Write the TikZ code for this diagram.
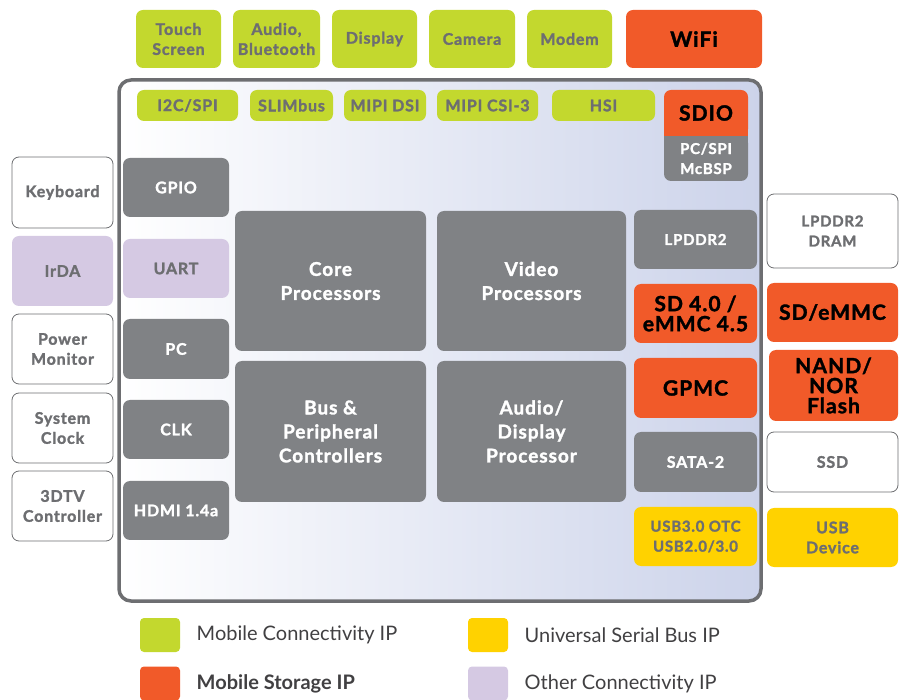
\documentclass[tikz,border=0pt]{standalone}
\usepackage{fontspec}
\setmainfont{Lato}
\newfontfamily\blkfont{Lato}[LetterSpace=5,BoldFeatures={FakeBold=1.6}]
\usetikzlibrary{positioning}
\definecolor{mobgreen}{HTML}{C3D82E}
\definecolor{storange}{HTML}{F15A29}
\definecolor{ipgray}{HTML}{808285}
\definecolor{usbyellow}{HTML}{FFD200}
\definecolor{otherlav}{HTML}{D5C9E3}
\definecolor{txtgray}{HTML}{6D6E71}
\definecolor{legendgray}{HTML}{414042}
\definecolor{boardblue}{HTML}{CCD3EA}
\definecolor{rimgray}{HTML}{6D6E71}

\begin{document}
\begin{tikzpicture}[x=1pt,y=-1pt,
box/.style={rounded corners=7pt,align=center,inner sep=0pt,
  font=\blkfont\bfseries\fontsize{16}{20}\selectfont},
sz/.style 2 args={minimum width=#1pt,minimum height=#2pt},
mc/.style={box,fill=mobgreen,text=txtgray},
ms/.style={box,fill=storange,text=black,
  font=\blkfont\bfseries\fontsize{21}{20}\selectfont},
core/.style={box,fill=ipgray,text=white},
usb/.style={box,fill=usbyellow,text=txtgray},
oc/.style={box,fill=otherlav,text=txtgray},
ext/.style={box,fill=white,draw=txtgray,thick,text=txtgray},
small/.style={font=\blkfont\bfseries\fontsize{15}{20}\selectfont},
big/.style={font=\blkfont\bfseries\fontsize{19}{24}\selectfont},
key/.style={rounded corners=4pt,sz={40}{34}},
legend/.style={anchor=west,text=legendgray,font=\fontsize{20}{24}\selectfont}]

\useasboundingbox (0,0) rectangle (903,700);

% board
\draw[draw=rimgray,line width=3.5pt,rounded corners=12pt,left color=white,right color=boardblue] (119,80) rectangle (761,601);

% top row
\node[mc,sz={85}{58}] (touch) at (178.5,39) {Touch\\Screen};
\node[mc,sz={87}{58}] (audio) at (276.5,39) {Audio,\\Bluetooth};
\node[mc,sz={85}{58}] (disp) at (374.5,39) {Display};
\node[mc,sz={86}{58}] (cam) at (472,39) {Camera};
\node[mc,sz={85}{58}] (modem) at (569.5,39) {Modem};
\node[ms,sz={136}{58}] (wifi) at (694,39) {WiFi};

% interfaces
\node[mc,sz={101}{31}] (i2c) at (187.5,105.5) {I2C/SPI};
\node[mc,sz={83}{31}] (slim) at (291.5,105.5) {SLIMbus};
\node[mc,sz={82}{31}] (dsi) at (385,105.5) {MIPI DSI};
\node[mc,sz={101}{31}] (csi) at (487.5,105.5) {MIPI CSI-3};
\node[mc,sz={103}{31}] (hsi) at (603.5,105.5) {HSI};

\fill[ipgray] (664,128) rectangle (748,146);
\node[core,small,sz={84}{45}] (pcspi) at (706,158.5) {PC/SPI\\McBSP};
\fill[storange] (664,124) rectangle (748,136);
\node[ms,sz={84}{46}] (sdio) at (706,113) {SDIO};

% left side
\node[ext,sz={101}{71}] (kbd) at (62.5,192.5) {Keyboard};
\node[oc,sz={101}{70}] (irda) at (62.5,271) {IrDA};
\node[ext,sz={101}{70}] (pwr) at (62.5,349) {Power\\Monitor};
\node[ext,sz={101}{70}] (sclk) at (62.5,428) {System\\Clock};
\node[ext,sz={101}{70}] (tv) at (62.5,506) {3DTV\\Controller};

\node[core,sz={106}{59}] (gpio) at (176,187.5) {GPIO};
\node[oc,sz={106}{59}] (uart) at (176,268.5) {UART};
\node[core,sz={106}{60}] (pc) at (176,349) {PC};
\node[core,sz={106}{59}] (clk) at (176,429.5) {CLK};
\node[core,sz={106}{59}] (hdmi) at (176,510.5) {HDMI 1.4a};

% processors
\node[core,big,sz={191}{140}] (cpu) at (330.5,281) {Core\\Processors};
\node[core,big,sz={191}{141}] (bus) at (330.5,431.5) {Bus \&\\Peripheral\\Controllers};
\node[core,big,sz={189}{140}] (vid) at (531.5,281) {Video\\Processors};
\node[core,big,sz={189}{141}] (adp) at (531.5,431.5) {Audio/\\Display\\Processor};

% right side
\node[core,small,sz={123}{59}] (lpddr) at (695.5,239.5) {LPDDR2};
\node[ms,sz={123}{59}] (sd) at (695.5,313.5) {SD 4.0 /\\eMMC 4.5};
\node[ms,sz={123}{60}] (gpmc) at (695.5,388) {GPMC};
\node[core,sz={123}{60}] (sata) at (695.5,462) {SATA-2};
\node[usb,small,sz={123}{59}] (otc) at (695.5,536.5) {USB3.0 OTC\\USB2.0/3.0};

\node[ext,small,sz={131}{74}] (dram) at (832.5,231) {LPDDR2\\DRAM};
\node[ms,sz={131}{59}] (emmc) at (832.5,312.5) {SD/eMMC};
\node[ms,sz={129}{71}] (nand) at (833.5,385.5) {NAND/\\NOR\\Flash};
\node[ext,sz={131}{60}] (ssd) at (832.5,462) {SSD};
\node[usb,sz={131}{59}] (usbdev) at (832.5,537.5) {USB\\Device};

% legend
\node[key,fill=mobgreen] (kmc) at (160,635) {};
\node[legend,right=13pt of kmc] (tmc) {Mobile Connectivity IP};
\node[key,fill=storange] (kms) at (160,683.5) {};
\node[legend,right=13pt of kms,font=\bfseries\fontsize{20}{24}\selectfont] (tms) {Mobile Storage IP};
\node[key,fill=usbyellow] (kusb) at (488,635) {};
\node[legend,right=13pt of kusb] (tusb) {Universal Serial Bus IP};
\node[key,fill=otherlav] (koc) at (488,683.5) {};
\node[legend,right=13pt of koc] (toc) {Other Connectivity IP};
\end{tikzpicture}
\end{document}
